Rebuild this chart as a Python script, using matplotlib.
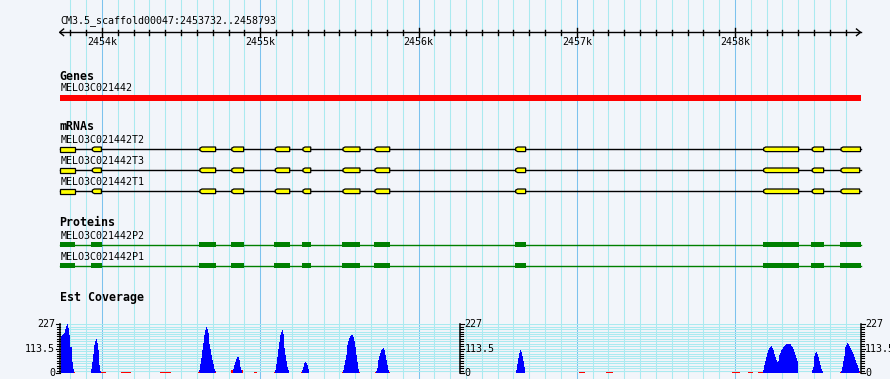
import matplotlib
matplotlib.use('Agg')
import matplotlib.pyplot as plt
from matplotlib.patches import Polygon, Rectangle

# region shown
seq_name = 'CM3.5_scaffold00047'
view_start = 2453732
view_end = 2458793

gene_name = 'MELO3C021442'

mrna_names = ['MELO3C021442T2', 'MELO3C021442T3', 'MELO3C021442T1']
mrna_exons = [(2453732, 2453827), (2453939, 2453996), (2454619, 2454718), (2454820, 2454895),
              (2455095, 2455186), (2455270, 2455319), (2455523, 2455630), (2455725, 2455818),
              (2456614, 2456677), (2458181, 2458402), (2458488, 2458560)]
mrna_last_exon = [(2458670, 2458793), (2458670, 2458788), (2458670, 2458788)]

protein_names = ['MELO3C021442P2', 'MELO3C021442P1']
protein_cds = [(2453732, 2453829), (2453930, 2453998), (2454613, 2454721), (2454815, 2454895),
               (2455087, 2455186), (2455264, 2455321), (2455516, 2455630), (2455719, 2455820),
               (2456610, 2456680), (2458177, 2458405), (2458480, 2458562), (2458663, 2458793)]

# est coverage, 6 bp bins starting at each peak start
cov_bin = 6
cov_max = 227
cov_peaks = [
    (2453739, [173, 175, 183, 188, 194, 207, 218, 227, 210, 176, 121, 121, 51, 20]),
    (2453930, [20, 50, 90, 130, 150, 159, 140, 105, 70, 35, 10]),
    (2454613, [15, 40, 70, 105, 140, 175, 200, 214, 205, 185, 160, 135, 110, 85, 60, 40, 20, 8]),
    (2454821, [8, 20, 35, 50, 65, 75, 73, 60, 45, 28, 12]),
    (2455093, [15, 40, 75, 110, 145, 175, 192, 199, 180, 150, 115, 85, 55, 30, 12]),
    (2455262, [15, 30, 45, 50, 50, 48, 35, 18]),
    (2455521, [15, 35, 60, 85, 110, 130, 150, 165, 172, 176, 178, 170, 150, 120, 85, 50, 20]),
    (2455729, [10, 25, 40, 60, 78, 92, 105, 112, 115, 105, 85, 60, 35, 15]),
    (2456616, [15, 40, 70, 95, 106, 100, 80, 55, 30, 12]),
    (2458179, [15, 35, 55, 75, 92, 105, 115, 122, 124, 118, 105, 90, 75, 62, 50, 55, 68, 82, 95,
               105, 113, 120, 126, 130, 133, 135, 135, 135, 133, 128, 120, 110, 98, 85, 72, 58, 44]),
    (2458484, [12, 30, 55, 78, 92, 98, 90, 75, 55, 35, 18, 8]),
    (2458668, [10, 30, 55, 80, 102, 120, 132, 138, 135, 128, 118, 108, 98, 88, 75, 62, 48, 35, 22, 10]),
]
# low coverage stretches (drawn red)
low_start = [2453823, 2453996, 2454120, 2454366, 2454607, 2454714, 2454815, 2454883, 2454960,
             2455087, 2455257, 2455515, 2455624, 2455725, 2455812, 2457014, 2457183, 2457982,
             2458079, 2458145, 2458662, 2458785]
low_end = [2453832, 2454025, 2454183, 2454436, 2454619, 2454723, 2454825, 2454893, 2454979,
           2455095, 2455264, 2455525, 2455631, 2455731, 2455820, 2457052, 2457229, 2458032,
           2458111, 2458177, 2458670, 2458793]
low_val = [6, 6, 6, 6, 6, 6, 16, 16, 6, 6, 6, 6, 6, 6, 6, 6, 6, 6, 6, 6, 6, 6]

BG = '#f2f5fa'
MINOR = '#aaeaf0'
MAJOR = '#7cc2ee'
MONO = 'DejaVu Sans Mono'

W, H = 890, 379
PX_PER_BP = 0.15825
X0 = 59.6  # pixel of view_start


def px(n):
    return n / PX_PER_BP


fig = plt.figure(figsize=(W / 100, H / 100), dpi=100, facecolor=BG)
ax = fig.add_axes([0, 0, 1, 1])
ax.set_facecolor(BG)
ax.set_xlim(view_start - px(X0), view_start + px(W - X0))
ax.set_ylim(H, 0)
ax.axis('off')

# vertical grid every 100 bp
for p in range((view_start // 100 + 1) * 100, view_end + 1, 100):
    ax.axvline(p, color=MAJOR if p % 1000 == 0 else MINOR, lw=0.75, zorder=0)

# ruler
ay = 32.3
ax.plot([view_start, view_end], [ay, ay], color='black', lw=1)
ax.plot([view_start + px(4), view_start, view_start + px(4)], [ay - 3.3, ay, ay + 3.3], color='black', lw=1)
ax.plot([view_end - px(4), view_end, view_end - px(4)], [ay - 3.3, ay, ay + 3.3], color='black', lw=1)
for p in range((view_start // 100 + 1) * 100, view_end, 100):
    if p % 1000 == 0:
        ax.plot([p, p], [ay - 4.3, ay + 4.3], color='black', lw=1)
        ax.text(p, 42, '%dk' % (p // 1000), ha='center', va='center', fontsize=7.2, family=MONO)
    else:
        ax.plot([p, p], [ay - 2.2, ay + 2.2], color='black', lw=1)
ax.text(view_start + px(1), 21, '%s:%d..%d' % (seq_name, view_start, view_end),
        ha='left', va='center', fontsize=7.2, family=MONO)

lx = view_start + px(1)

# genes
ax.text(view_start, 76, 'Genes', ha='left', va='center', fontsize=8.4, family=MONO, weight='bold')
ax.text(lx, 88, gene_name, ha='left', va='center', fontsize=7.2, family=MONO)
ax.add_patch(Rectangle((view_start, 95), view_end - view_start, 5.7, color='#ff0000', lw=0))

# mRNAs
ax.text(view_start, 127, 'mRNAs', ha='left', va='center', fontsize=8.4, family=MONO, weight='bold')
mrna_y = [149.3, 170.3, 191.3]
for name, yc, last in zip(mrna_names, mrna_y, mrna_last_exon):
    ax.text(lx, yc - 9.3, name, ha='left', va='center', fontsize=7.2, family=MONO)
    ax.plot([view_start, view_end], [yc, yc], color='black', lw=1, zorder=2)
    for s, e in mrna_exons + [last]:
        if s > view_start:
            pts = [(s, yc - 1.2), (s + px(2), yc - 2.3), (e, yc - 2.3),
                   (e, yc + 2.3), (s + px(2), yc + 2.3), (s, yc + 1.2)]
        else:
            pts = [(s, yc - 2.3), (e, yc - 2.3), (e, yc + 2.3), (s, yc + 2.3)]
        ax.add_patch(Polygon(pts, closed=True, facecolor='#ffff00', edgecolor='black', lw=0.9, zorder=3))

# proteins
ax.text(view_start, 222.8, 'Proteins', ha='left', va='center', fontsize=8.4, family=MONO, weight='bold')
prot_y = [244.8, 265.8]
for name, yc in zip(protein_names, prot_y):
    ax.text(lx, yc - 9, name, ha='left', va='center', fontsize=7.2, family=MONO)
    ax.plot([view_start, view_end], [yc, yc], color='#008000', lw=1, zorder=2)
    for s, e in protein_cds:
        ax.add_patch(Rectangle((s, yc - 2.6), e - s, 5.2, color='#008000', lw=0, zorder=3))

# est coverage
ax.text(view_start, 297, 'Est Coverage', ha='left', va='center', fontsize=8.4, family=MONO, weight='bold')

cy0, cy1 = 373, 324.3
cax = fig.add_axes([X0 / W, (H - cy0) / H, (view_end - view_start) * PX_PER_BP / W, (cy0 - cy1) / H])
cax.patch.set_alpha(0)
cax.set_xlim(view_start, view_end)
cax.set_ylim(0, cov_max)
cax.axis('off')

n_ticks = 20
for i in range(n_ticks + 1):
    cax.axhline(cov_max * i / n_ticks, color=MINOR, lw=0.75, zorder=0)

for start, vals in cov_peaks:
    edges = [start + i * cov_bin for i in range(len(vals) + 1)]
    cax.stairs(vals, edges, fill=True, color='#0000ff', lw=0, antialiased=False, zorder=2)
for s, e, v in zip(low_start, low_end, low_val):
    cax.stairs([v], [s, e], fill=True, color='#ff0000', lw=0, antialiased=False, zorder=2)

mid = (view_start + view_end) / 2
scale_axes = [(view_start, -1), (mid, 1), (view_end, 1)]
for xa, d in scale_axes:
    cax.plot([xa, xa], [0, cov_max], color='black', lw=1.1, clip_on=False, zorder=4)
    for i in range(n_ticks + 1):
        v = cov_max * i / n_ticks
        L = px(4) if i in (0, n_ticks // 2, n_ticks) else px(3)
        cax.plot([xa, xa + d * L], [v, v], color='black', lw=0.8, clip_on=False, zorder=4)
    for v, lab in [(cov_max, '227'), (cov_max / 2, '113.5'), (0, '0')]:
        cax.text(xa + d * px(4.5), v, lab, ha='left' if d > 0 else 'right', va='center',
                 fontsize=7.2, family=MONO, clip_on=False)

fig.savefig('out.png', dpi=100, facecolor=BG)
